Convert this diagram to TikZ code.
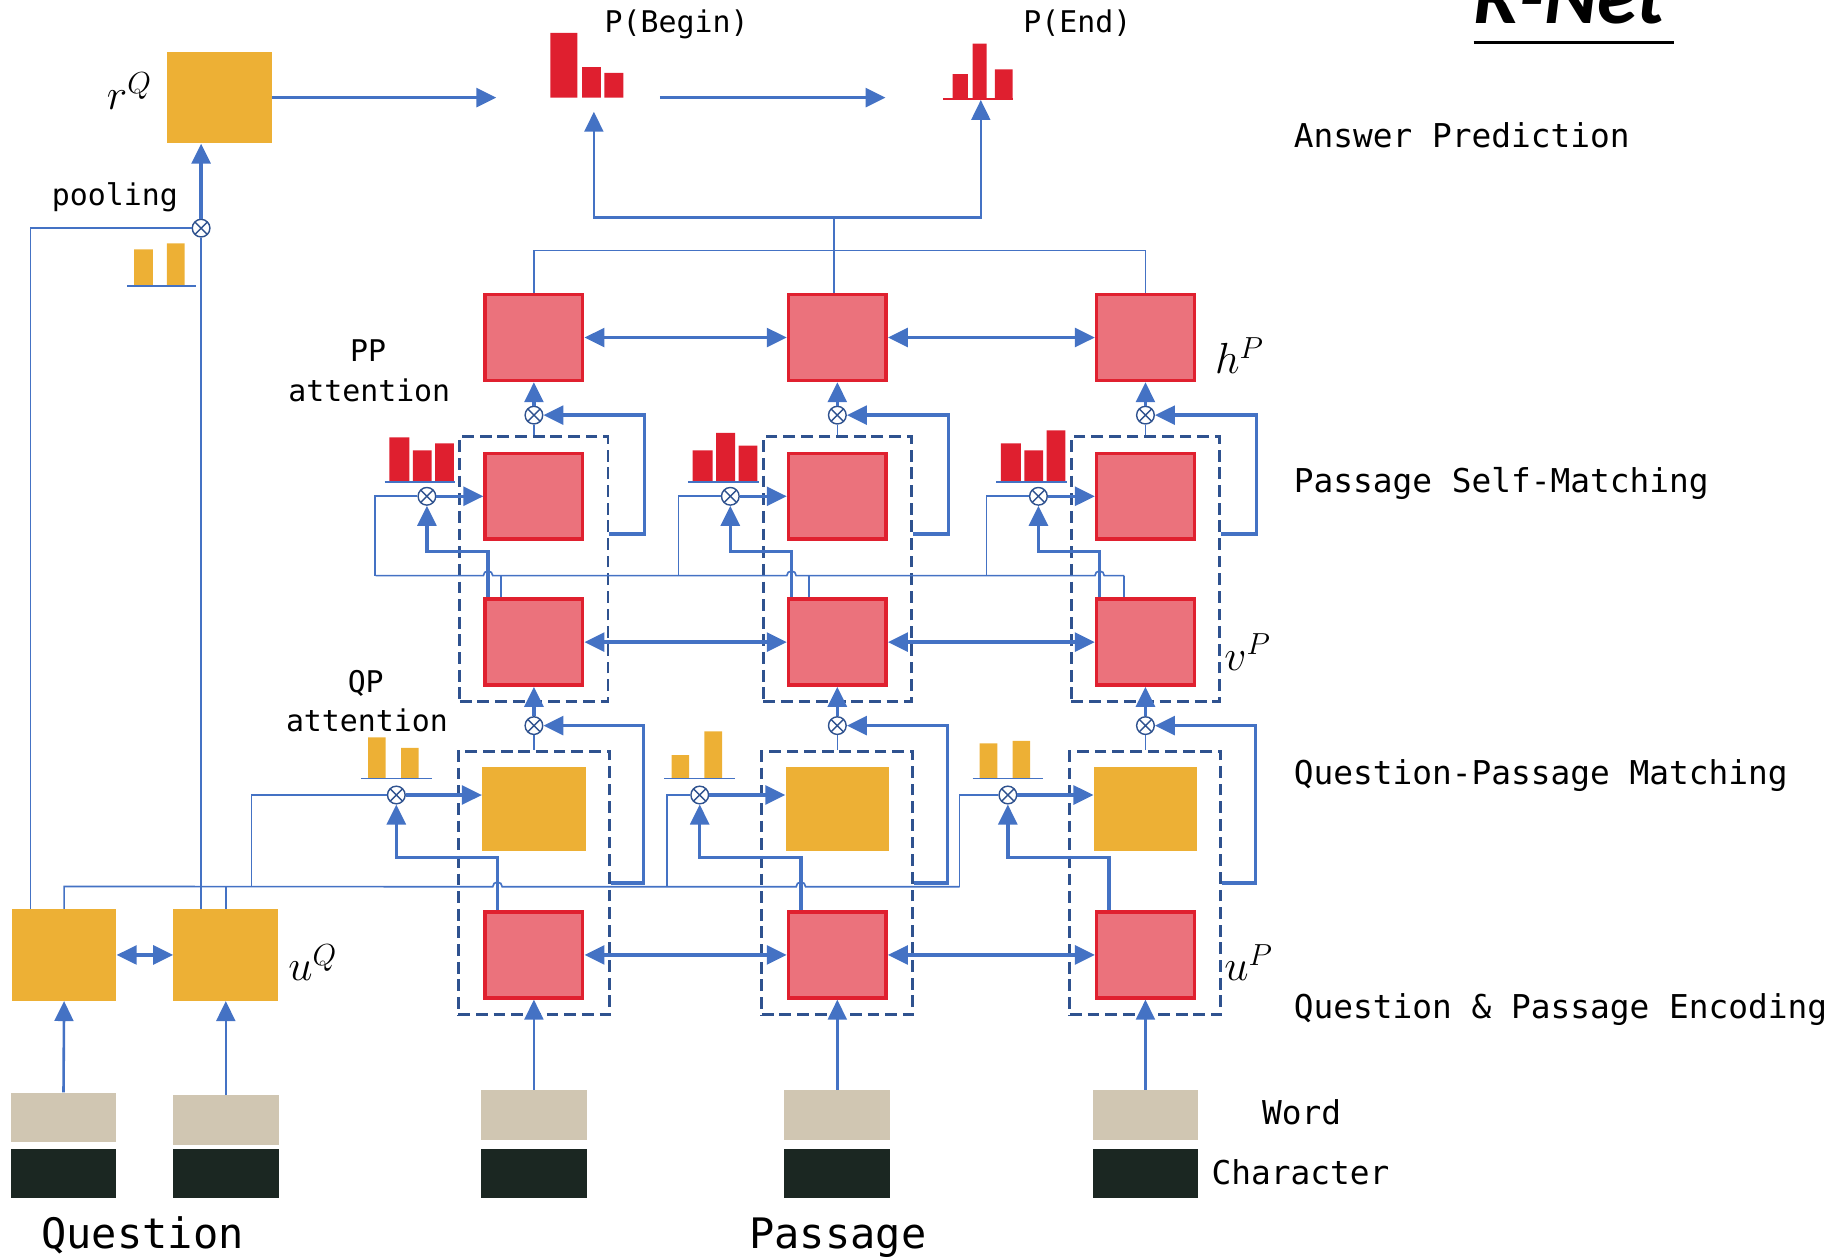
\RequirePackage{fix-cm}
\documentclass[tikz,border=0pt]{standalone}
\usepackage{fontspec}
\setmonofont{DejaVu Sans Mono}
\newfontfamily\titlefont{Carlito}
\usetikzlibrary{arrows.meta,fit}

\definecolor{lineblue}{HTML}{4472C4}
\definecolor{dashblue}{HTML}{2F528F}
\definecolor{boxred}{HTML}{E0202F}
\definecolor{boxpink}{HTML}{EB727C}
\definecolor{boxyel}{HTML}{EDB035}
\definecolor{wordtan}{HTML}{D0C6B2}
\definecolor{chardark}{HTML}{1B2722}
\definecolor{barred}{HTML}{DF1F2F}

\tikzset{
  redbox/.style={draw=boxred, fill=boxpink, line width=3pt, minimum width=83pt, minimum height=73pt, inner sep=0pt},
  yelbox/.style={fill=boxyel, minimum width=88pt, minimum height=72pt, inner sep=0pt},
  qbox/.style={fill=boxyel, minimum width=89pt, minimum height=78pt, inner sep=0pt},
  wordbox/.style={fill=wordtan, minimum width=90pt, minimum height=42pt, inner sep=0pt},
  charbox/.style={fill=chardark, minimum width=90pt, minimum height=42pt, inner sep=0pt},
  dashbox/.style={draw=dashblue, line width=2.5pt, dash pattern=on 10pt off 5pt, inner xsep=20pt, inner ysep=12.5pt},
  otimes/.style={circle, draw=dashblue, fill=white, line width=1.2pt, minimum size=15pt, inner sep=0pt,
    path picture={\draw[dashblue, line width=1.2pt]
      (path picture bounding box.north west) -- (path picture bounding box.south east)
      (path picture bounding box.north east) -- (path picture bounding box.south west);}},
  fat/.style={draw=lineblue, line width=2.8pt},
  mid/.style={draw=lineblue, line width=2.2pt},
  slim/.style={draw=lineblue, line width=1.4pt},
  tip/.style={-{Triangle[length=17pt,width=16pt]}},
  tips/.style={{Triangle[length=17pt,width=16pt]}-{Triangle[length=17pt,width=16pt]}},
  seclbl/.style={font=\ttfamily\fontsize{27.9}{32}\selectfont, inner sep=0pt, anchor=base west},
  attlbl/.style={font=\ttfamily\fontsize{25.4}{30}\selectfont, inner sep=0pt, anchor=base west},
  srclbl/.style={font=\ttfamily\fontsize{35.7}{40}\selectfont, inner sep=0pt, anchor=base west},
  vecl/.style={font=\fontsize{37}{42}\selectfont, inner sep=0pt, anchor=base west},
}

\begin{document}
\begin{tikzpicture}[x=1pt,y=-1pt]
  \useasboundingbox (0,0) rectangle (1568,1069);
  \clip (0,0) rectangle (1568,1069);

  % Title
  \node[anchor=base west, inner sep=0pt, font=\titlefont\bfseries\itshape\fontsize{69}{70}\selectfont] (title) at (1253,20) {R-Net};
  \draw[black, line width=3pt] (1253,36) -- (1423,36);

  % Layer names
  \node[seclbl] (ansl) at (1100,125) {Answer Prediction};
  \node[seclbl] (selfl) at (1100,419) {Passage Self-Matching};
  \node[seclbl] (qpml) at (1100,667) {Question-Passage Matching};
  \node[seclbl] (encl) at (1100,866) {Question \& Passage Encoding};
  \node[seclbl] (wordl) at (1073,956) {Word};
  \node[seclbl] (charl) at (1030,1007) {Character};

  % Passage columns
  \foreach \i/\x/\t/\l in {1/454/15/214, 2/712/19/567, 3/974/25/816} {
    \node[redbox] (h\i) at (\x,287) {};
    \node[redbox] (s\i) at (\x,422) {};
    \node[redbox] (v\i) at (\x,546) {};
    \node[yelbox] (c\i) at (\x,688) {};
    \node[redbox] (u\i) at (\x,812) {};
    \node[wordbox] (w\i) at (\x,948) {};
    \node[charbox] (ch\i) at (\x,998) {};
    \node[otimes] (ha\i) at (\x,353) {};
    \node[otimes] (va\i) at (\x,617) {};
    \node[otimes] (pp\i) at (\x-91,422) {};
    \node[otimes] (qp\i) at (\x-117,676) {};
    \node[dashbox, fit=(s\i)(v\i)] (ds\i) {};
    \node[dashbox, inner ysep=13pt, fit=(c\i)(u\i)] (dq\i) {};

    % Inputs and gates
    \draw[mid,tip] (w\i.north) -- (u\i.south);
    \draw[fat,tip] (ha\i.north) -- (h\i.south);
    \draw[slim] (ds\i.north) -- (ha\i.south);
    \draw[fat,tip] (va\i.north) -- (v\i.south);
    \draw[slim] (dq\i.north) -- (va\i.south);
    \draw[fat,tip] ([yshift=30pt]ds\i.east) -- ++(30,0) |- (ha\i.east);
    \draw[fat,tip] (dq\i.east) -- ++(28,0) |- (va\i.east);

    % Attention inputs
    \draw[fat,tip] (pp\i.east) -- (s\i.west);
    \draw[fat,tip] (qp\i.east) -- (c\i.west |- qp\i);
    \draw[fat,tip] ([xshift=4pt]v\i.north west) -- ++(0,-39) -| (pp\i.south);
    \draw[fat,tip] ([xshift=12pt]u\i.north west) -- ++(0,-45) -| (qp\i.south);
    \draw[slim] ([xshift=\t pt]v\i.north west) -- ++(0,-18.5);
    \draw[slim] (pp\i.west) -- ++(-36,0) -- ++(0,67.5);
    \draw[slim] (qp\i.west) -| (\l,754);
  }

  % Attention weights
  \foreach \x/\a/\b/\c in {454/372/383/377, 712/383/368/379, 974/377/383/366} {
    \fill[barred] (\x-123,\a) rectangle (\x-106,410) (\x-103,\b) rectangle (\x-87,410) (\x-84,\c) rectangle (\x-68,410);
    \draw[slim] (\x-127,410) -- (\x-67,410);
  }
  \foreach \x/\a/\b in {454/627/636, 712/642/622, 974/632/630} {
    \fill[boxyel] (\x-141,\a) rectangle (\x-126,662) (\x-113,\b) rectangle (\x-98,662);
    \draw[slim] (\x-147,662) -- (\x-87,662);
  }

  % Bidirectional links
  \foreach \a/\b in {1/2, 2/3} {
    \draw[fat,tips] (h\a.east) -- (h\b.west);
    \draw[fat,tips] (v\a.east) -- (v\b.west);
    \draw[fat,tips] (u\a.east) -- (u\b.west);
  }

  % Shared lines
  \draw[slim] (319.5,489.5) -- (411,489.5) arc[start angle=180, end angle=0, radius=4pt]
    -- (669,489.5) arc[start angle=180, end angle=0, radius=4pt]
    -- (931,489.5) arc[start angle=180, end angle=0, radius=4pt] -- (956,489.5);

  % Question side
  \node[qbox] (qu1) at (54.5,812) {};
  \node[qbox] (qu2) at (192,812) {};
  \node[wordbox] (qw1) at (54,950) {};
  \node[wordbox] (qw2) at (192,952.5) {};
  \node[charbox] (qc1) at (54,998) {};
  \node[charbox] (qc2) at (192,998) {};
  \draw[mid,tip] (qw1.north) -- (qu1.south);
  \draw[mid,tip] (qw2.north) -- (qu2.south);
  \draw[fat,tips] (qu1.east) -- (qu2.west);
  \draw[slim] (qu1.north) -- ++(0,-19) -- (419,754) arc[start angle=180, end angle=0, radius=4pt]
    -- (677,754) arc[start angle=180, end angle=0, radius=4pt] -- (816,754);
  \draw[slim] (qu2.north) -- ++(0,-19);

  % Pooling
  \node[qbox] (rq) at (186.5,83) {};
  \node[otimes] (pool) at (171,194) {};
  \draw[fat,tip] (pool.north) -- (pool.north |- rq.south);
  \draw[slim] ([xshift=-28.5pt]qu1.north) |- (pool.west);
  \draw[slim] (qu2.north -| pool) -- (pool.south);
  \fill[boxyel] (114,212) rectangle (130,243) (142,207) rectangle (157,243);
  \draw[slim] (108,243) -- (167,243);

  % Answer prediction
  \coordinate (begL) at (422,83);
  \coordinate (begR) at (561,83);
  \coordinate (endL) at (753,83);
  \coordinate (pbeg) at (505,95);
  \coordinate (pend) at (834,85);
  \coordinate (join) at (709,185);
  \draw[fat,tip] (rq.east) -- (begL);
  \draw[fat,tip] (begR) -- (endL);
  \fill[barred] (468,28) rectangle (491,83) (495,57) rectangle (511,83) (514,62) rectangle (530,83);
  \fill[barred] (810,63) rectangle (823,84) (827,37) rectangle (839,84) (846,59) rectangle (861,84);
  \draw[barred, line width=1.5pt] (802,84) -- (861,84);
  \draw[mid,tip] (join) -| (pbeg);
  \draw[mid,tip] (join) -| (pend);
  \draw[slim] (join) -- (join |- h2.north);
  \draw[slim] (h1.north) -- ++(0,-36) -| (h3.north);

  % Labels
  \node[attlbl] (pbl) at (514,28) {P(Begin)};
  \node[attlbl] (pel) at (870,28) {P(End)};
  \node[attlbl] (pooll) at (44,175) {pooling};
  \node[attlbl, anchor=base] (ppl) at (313,307) {PP};
  \node[attlbl] (ppal) at (245,341) {attention};
  \node[attlbl, anchor=base] (qpl) at (311,589) {QP};
  \node[attlbl] (qpal) at (243,622) {attention};
  \node[srclbl] (ql) at (35,1062) {Question};
  \node[srclbl] (pl) at (637,1062) {Passage};
  \node[vecl, anchor=base east] (rql) at (129,93) {$r^{Q}$};
  \node[vecl] (uql) at (245,834) {$u^{Q}$};
  \node[vecl] (hpl) at (1033,318) {$h^{P}$};
  \node[vecl] (vpl) at (1041,570) {$v^{P}$};
  \node[vecl] (upl) at (1041,834) {$u^{P}$};
\end{tikzpicture}
\end{document}
